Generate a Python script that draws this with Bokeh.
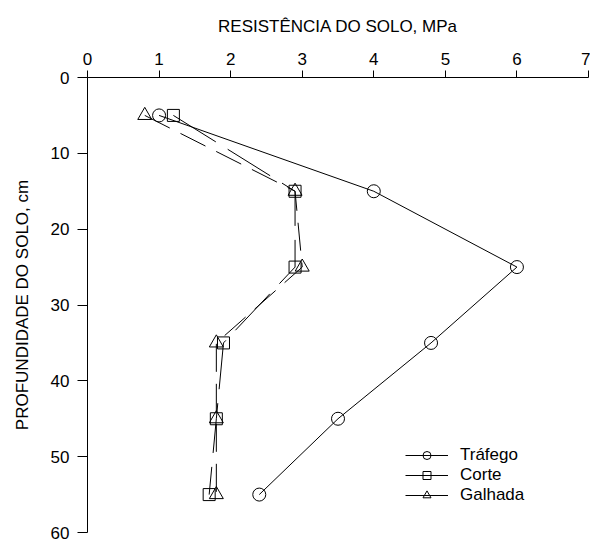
from bokeh.plotting import figure
from bokeh.models import Range1d, LinearAxis, FixedTicker, Legend, LegendItem, ColumnDataSource
from bokeh.embed import file_html
from bokeh.resources import INLINE

depth = [5, 15, 25, 35, 45, 55]
trafego = [1.0, 4.0, 6.0, 4.8, 3.5, 2.4]
corte = [1.2, 2.9, 2.9, 1.9, 1.8, 1.7]
galhada = [0.8, 2.9, 3.0, 1.8, 1.8, 1.8]
x_ticks = [0, 1, 2, 3, 4, 5, 6, 7]
y_ticks = [0, 10, 20, 30, 40, 50, 60]

FONT = "Liberation Sans"

p = figure(width=590, height=546, output_backend="svg", toolbar_location=None,
           x_range=Range1d(0, 7), y_range=Range1d(60, 0),
           x_axis_location=None, y_axis_location=None,
           min_border_left=87, min_border_right=2, min_border_top=77, min_border_bottom=14)
p.outline_line_color = None
p.xgrid.visible = False
p.ygrid.visible = False
p.background_fill_color = "white"

xa = LinearAxis(ticker=FixedTicker(ticks=x_ticks), axis_label="RESISTÊNCIA DO SOLO, MPa")
ya = LinearAxis(ticker=FixedTicker(ticks=y_ticks), axis_label="PROFUNDIDADE DO SOLO, cm")
for ax, tout in ((xa, 7), (ya, 10)):
    ax.major_tick_out = tout
    ax.major_tick_in = 0
    ax.minor_tick_out = 0
    ax.minor_tick_in = 0
    ax.axis_line_color = "black"
    ax.major_tick_line_color = "black"
    ax.major_label_text_font = FONT
    ax.major_label_text_font_size = "17px"
    ax.major_label_text_color = "black"
    ax.axis_label_text_font = FONT
    ax.axis_label_text_font_size = "17px"
    ax.axis_label_text_font_style = "normal"
    ax.axis_label_text_color = "black"
xa.major_label_standoff = 6
xa.axis_label_standoff = 14
ya.major_label_standoff = 8
ya.axis_label_standoff = 16
p.add_layout(xa, "above")
p.add_layout(ya, "left")

series = [
    ("Tráfego", trafego, "circle", "solid", 13),
    ("Corte", corte, "square", "50 14", 12),
    ("Galhada", galhada, "triangle", "28 12", 14),
]
nan = float("nan")
items = []
for name, vals, marker, dash, size in series:
    src = ColumnDataSource(dict(x=vals, y=depth))
    p.line("x", "y", source=src, line_color="black", line_width=1, line_dash=dash)
    p.scatter("x", "y", source=src, marker=marker, size=size, line_color="black",
              line_width=1, fill_alpha=0)
    dummy = ColumnDataSource(dict(x=[nan], y=[nan]))
    lr = p.line("x", "y", source=dummy, line_color="black", line_width=1)
    sr = p.scatter("x", "y", source=dummy, marker=marker, size=size, line_color="black",
                   line_width=1, fill_alpha=0)
    items.append(LegendItem(label=name, renderers=[lr, sr]))

legend = Legend(items=items, location=(318, 27), border_line_color=None,
                background_fill_alpha=0, padding=0, margin=0, spacing=0,
                glyph_width=43, glyph_height=20, label_height=20, label_standoff=12,
                label_text_font=FONT, label_text_font_size="17px", label_text_color="black")
p.add_layout(legend, "center")

open("out.html", "w").write(file_html(p, INLINE))
